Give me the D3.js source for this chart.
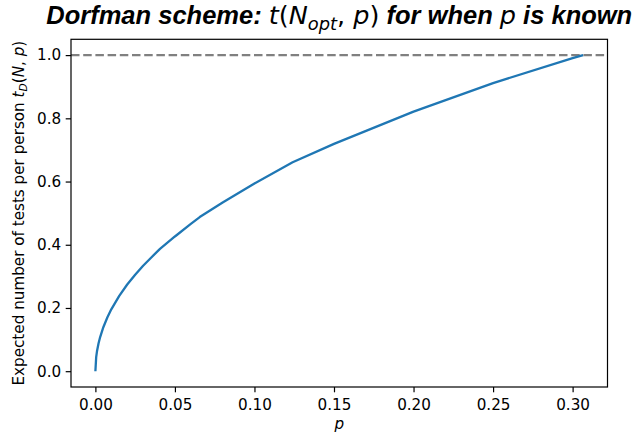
<!DOCTYPE html>
<html lang="en">
<head>
<meta charset="utf-8">
<title>Dorfman scheme</title>
<script src="https://cdn.jsdelivr.net/npm/d3@7"></script>
<style>
  body { margin: 0; background: #fff; }
  .tick text { font-family: "DejaVu Sans", sans-serif; font-size: 15.2px; fill: #000; }
  .math { font-family: "DejaVu Sans", sans-serif; font-weight: normal; }
</style>
</head>
<body>
<div class="chart"></div>
<script>
// p values and the expected tests per person
const pValues = [0, 0.0005, 0.001, 0.002, 0.003, 0.005, 0.0075, 0.01, 0.015, 0.02, 0.025, 0.03,
                 0.035, 0.0406, 0.05, 0.06, 0.0656, 0.08, 0.10, 0.124, 0.15, 0.20, 0.25, 0.30, 0.3066];
const tValues = [0, 0.0445, 0.0628, 0.0885, 0.1081, 0.1391, 0.1697, 0.1956, 0.2383, 0.2742, 0.3053, 0.3337,
                 0.3591, 0.3868, 0.4262, 0.4661, 0.4877, 0.5336, 0.5939, 0.6611, 0.7192, 0.8213, 0.9115, 0.9903, 1.0];
const xTicks = [0, 0.05, 0.10, 0.15, 0.20, 0.25, 0.30];
const yTicks = [0, 0.2, 0.4, 0.6, 0.8, 1.0];
const refLine = 1.0;

const W = 636, H = 434;
const margin = {top: 39.3, right: 28.5, bottom: 47, left: 71};
const fs = 15.2;

const svg = d3.select(".chart").append("svg")
    .attr("width", W).attr("height", H);

const data = pValues.map((p, i) => ({p: p, t: tValues[i]}));

// matplotlib style 5% padding
function pad(ext) {
    const d = (ext[1] - ext[0]) * 0.05;
    return [ext[0] - d, ext[1] + d];
}

const x = d3.scaleLinear()
    .domain(pad(d3.extent(pValues)))
    .range([margin.left, W - margin.right]);
const y = d3.scaleLinear()
    .domain(pad(d3.extent(tValues)))
    .range([H - margin.bottom, margin.top]);

// dashed reference line
svg.append("line")
    .attr("x1", margin.left).attr("x2", W - margin.right)
    .attr("y1", y(refLine)).attr("y2", y(refLine))
    .attr("stroke", "#808080")
    .attr("stroke-width", 2.3)
    .attr("stroke-dasharray", "8.5,3.7");

// curve
svg.append("path")
    .datum(data)
    .attr("fill", "none")
    .attr("stroke", "#1f77b4")
    .attr("stroke-width", 2.3)
    .attr("stroke-linejoin", "round")
    .attr("d", d3.line().x(d => x(d.p)).y(d => y(d.t)));

// axes
const xAxis = d3.axisBottom(x).tickValues(xTicks).tickFormat(d3.format(".2f"))
    .tickSize(5.3).tickPadding(3.6).tickSizeOuter(0);
const yAxis = d3.axisLeft(y).tickValues(yTicks).tickFormat(d3.format(".1f"))
    .tickSize(5.3).tickPadding(4.5).tickSizeOuter(0);

const gx = svg.append("g")
    .attr("transform", `translate(0,${H - margin.bottom})`)
    .call(xAxis);
const gy = svg.append("g")
    .attr("transform", `translate(${margin.left},0)`)
    .call(yAxis);
[gx, gy].forEach(g => {
    g.select(".domain").remove();
    g.selectAll(".tick line").attr("stroke", "#000").attr("stroke-width", 1.2);
});
gx.selectAll(".tick text").attr("dy", "0.9em");

// frame
svg.append("rect")
    .attr("x", margin.left).attr("y", margin.top)
    .attr("width", W - margin.left - margin.right)
    .attr("height", H - margin.top - margin.bottom)
    .attr("fill", "none").attr("stroke", "#000").attr("stroke-width", 1.2);

// x label
svg.append("text")
    .attr("x", (margin.left + W - margin.right) / 2)
    .attr("y", 429)
    .attr("text-anchor", "middle")
    .attr("font-family", "DejaVu Sans")
    .attr("font-style", "italic")
    .attr("font-size", fs)
    .text("p");

// y label
const yl = svg.append("text")
    .attr("transform", `translate(24,${(margin.top + H - margin.bottom) / 2}) rotate(-90)`)
    .attr("text-anchor", "middle")
    .attr("font-family", "DejaVu Sans")
    .attr("font-size", fs);
yl.append("tspan").text("Expected number of tests per person ");
yl.append("tspan").attr("font-style", "italic").text("t");
yl.append("tspan").attr("font-style", "italic").attr("font-size", fs * 0.7).attr("dy", 3.3).text("D");
yl.append("tspan").attr("dy", -3.3).text("(");
yl.append("tspan").attr("font-style", "italic").text("N");
yl.append("tspan").text(", ");
yl.append("tspan").attr("font-style", "italic").text("p");
yl.append("tspan").text(")");

// title
const tfs = 25.5;
const title = svg.append("text")
    .attr("x", (margin.left + W - margin.right) / 2)
    .attr("y", 24)
    .attr("text-anchor", "middle")
    .attr("font-family", "Liberation Sans, Arial, sans-serif")
    .attr("font-weight", "bold")
    .attr("font-style", "italic")
    .attr("font-size", tfs);
title.append("tspan").text("Dorfman scheme: ");
title.append("tspan").attr("class", "math").attr("font-style", "italic").text("t");
title.append("tspan").attr("class", "math").attr("font-style", "normal").text("(");
title.append("tspan").attr("class", "math").attr("font-style", "italic").text("N");
title.append("tspan").attr("class", "math").attr("font-style", "italic").attr("font-size", tfs * 0.7).attr("dy", 5.5).text("opt");
title.append("tspan").attr("class", "math").attr("font-style", "normal").attr("dy", -5.5).text(", ");
title.append("tspan").attr("class", "math").attr("font-style", "italic").text("p");
title.append("tspan").attr("class", "math").attr("font-style", "normal").text(")");
title.append("tspan").text(" for when ");
title.append("tspan").attr("class", "math").attr("font-style", "italic").text("p");
title.append("tspan").text(" is known");
</script>
</body>
</html>
